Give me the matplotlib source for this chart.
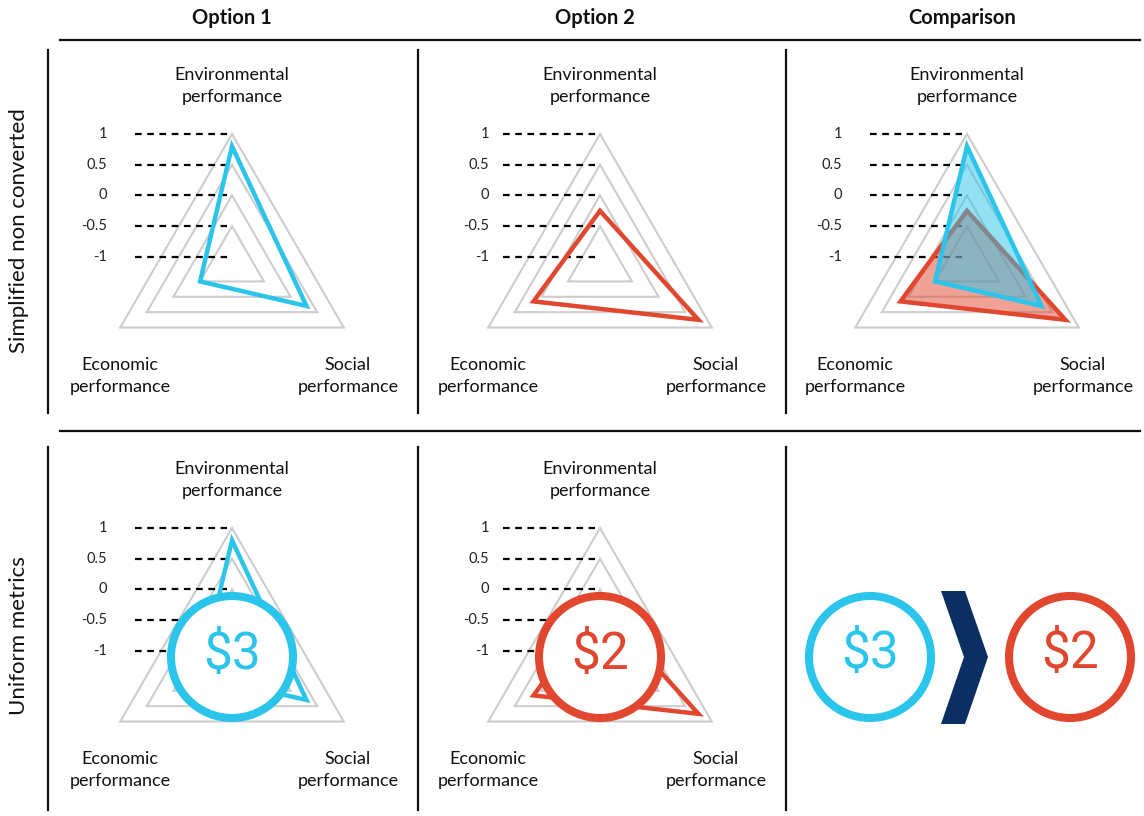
import numpy as np
import matplotlib
matplotlib.use("Agg")
import matplotlib.pyplot as plt
import matplotlib.transforms as mtransforms
from matplotlib.patches import Circle, Polygon

# ---------------- data ----------------
axis_names = ["Environmental\nperformance", "Social\nperformance", "Economic\nperformance"]
option1_scores = [0.8, 0.3, -0.5]
option2_scores = [-0.25, 0.75, 0.15]
tick_values = [1, 0.5, 0, -0.5, -1]
tick_labels = ["1", "0.5", "0", "-0.5", "-1"]
grid_values = [1, 0.5, 0, -0.5]
column_titles = ["Option 1", "Option 2", "Comparison"]
row_titles = ["Simplified non converted", "Uniform metrics"]
option1_cost = "$3"
option2_cost = "$2"

# ---------------- style ----------------
BLUE = "#2BC4EB"
RED = "#E1462E"
GRID = "#CDCDCD"
NAVY = "#0B2F62"
plt.rcParams['font.family'] = ['Lato', 'DejaVu Sans']

W, H = 1144, 816
fig = plt.figure(figsize=(W / 100, H / 100), dpi=100)

RMIN, RMAX = -1.1, 1.0
SPAN = RMAX - RMIN
R_PX = 129          # pixel radius of the outer ring
CIRCLE_PX = 61      # pixel radius of cost circle


def box(cx, cy, hw, hh):
    return [(cx - hw) / W, 1 - (cy + hh) / H, 2 * hw / W, 2 * hh / H]


# label offsets (pixels from radar centre), per axis
label_offsets = [(0, -177), (116, 113), (-112, 113)]


def radar_panel(cx, cy, series, tick_right_px, cost=None):
    ov = fig.add_axes(box(cx, cy, R_PX, R_PX))
    ov.set_xlim(-SPAN, SPAN)
    ov.set_ylim(RMIN - SPAN, RMAX)
    ov.axis('off')

    ax = fig.add_axes(box(cx, cy, R_PX, R_PX), projection='polar')
    ax.set_theta_zero_location('N')
    ax.set_theta_direction(-1)
    ax.set_ylim(RMIN, RMAX)
    ax.axis('off')

    theta = np.linspace(0, 2 * np.pi, len(axis_names), endpoint=False)
    for g in grid_values:
        ax.fill(theta, [g] * len(theta), facecolor='none', edgecolor=GRID,
                lw=1.5, clip_on=False, zorder=1, joinstyle='miter')

    bl = mtransforms.blended_transform_factory(ov.transAxes, ov.transData)
    xr = 0.5 - tick_right_px / (2 * R_PX)
    for t, lab in zip(tick_values, tick_labels):
        ax.plot([0.124, 0.479], [t, t], transform=bl, color='black', lw=1.6,
                ls=(0, (3, 2.5)), clip_on=False, zorder=2)
        ax.text(xr, t, lab, transform=bl, ha='right', va='center',
                fontsize=10.5, color='#222222', zorder=2)

    for name, (dx, dy) in zip(axis_names, label_offsets):
        ax.text(0.5 + dx / (2 * R_PX), 0.5 - dy / (2 * R_PX), name,
                transform=ov.transAxes, ha='center', va='center',
                fontsize=13, linespacing=1.5, color='#111111', zorder=2)

    for vals, color, filled in series:
        if filled:
            ax.fill(theta, vals, facecolor=color, alpha=0.5, edgecolor='none',
                    zorder=3, clip_on=False)
        ax.fill(theta, vals, facecolor='none', edgecolor=color, lw=3.2,
                joinstyle='miter', zorder=3, clip_on=False)

    if cost is not None:
        text, color = cost
        r = CIRCLE_PX / R_PX * SPAN
        ax.add_patch(Circle((0, RMIN), r, transform=ov.transData,
                            facecolor='white', edgecolor=color, lw=5.8,
                            zorder=6, clip_on=False))
        ax.text(0, RMIN + 0.04, text, transform=ov.transData, ha='center',
                va='center', fontsize=37, color=color, family='Roboto',
                zorder=7, parse_math=False)


col_cx = [232, 600, 967]
row_cy = [263, 657]
tick_right = [125, 111, 125]

# Row 1
radar_panel(col_cx[0], row_cy[0], [(option1_scores, BLUE, False)], tick_right[0])
radar_panel(col_cx[1], row_cy[0], [(option2_scores, RED, False)], tick_right[1])
radar_panel(col_cx[2], row_cy[0], [(option2_scores, RED, True),
                                   (option1_scores, BLUE, True)], tick_right[2])
# Row 2
radar_panel(col_cx[0], row_cy[1], [(option1_scores, BLUE, False)], tick_right[0],
            cost=(option1_cost, BLUE))
radar_panel(col_cx[1], row_cy[1], [(option2_scores, RED, False)], tick_right[1],
            cost=(option2_cost, RED))

# ---------------- decoration layer ----------------
deco = fig.add_axes([0, 0, 1, 1])
deco.set_xlim(0, W)
deco.set_ylim(H, 0)
deco.axis('off')

for x, t in zip([232, 595, 962], column_titles):
    deco.text(x, 18, t, ha='center', va='center', fontsize=14.5,
              fontweight='bold', color='#111111')

for y in [40, 431]:
    deco.plot([60, 1140], [y, y], color='#111111', lw=1.6)
for x in [48, 418, 786]:
    deco.plot([x, x], [50, 413], color='#111111', lw=1.6)
    deco.plot([x, x], [447, 810], color='#111111', lw=1.6)

for y, t in zip([231, 636], row_titles):
    deco.text(19, y, t, ha='center', va='center', rotation=90, fontsize=16,
              color='#111111')

# Comparison of costs
for x, (text, color) in zip([870, 1070], [(option1_cost, BLUE), (option2_cost, RED)]):
    deco.add_patch(Circle((x, 657), CIRCLE_PX, facecolor='white',
                          edgecolor=color, lw=5.8))
    deco.text(x, 654, text, ha='center', va='center', fontsize=37,
              color=color, family='Roboto', parse_math=False)

deco.add_patch(Polygon([(941, 591), (965, 591), (988, 657), (965, 724),
                        (941, 724), (964, 657)], closed=True,
                       facecolor=NAVY, edgecolor='none'))

fig.savefig("out.png", dpi=100)
